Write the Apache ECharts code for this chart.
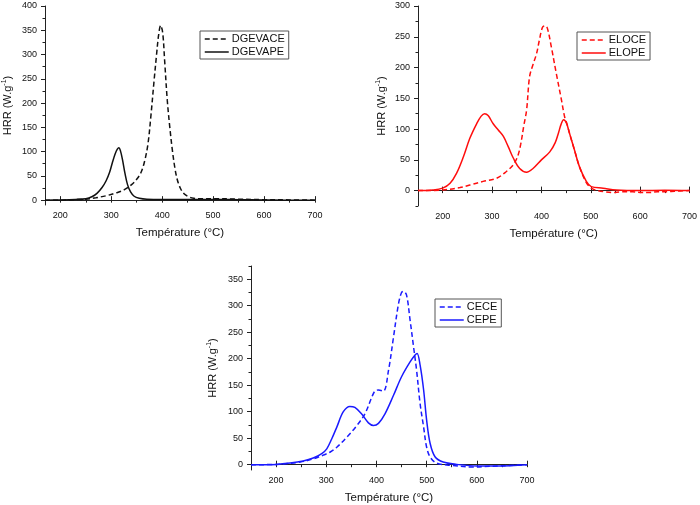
<!DOCTYPE html>
<html><head><meta charset="utf-8">
<script src="https://cdn.jsdelivr.net/npm/echarts@6/dist/echarts.min.js"></script>
<style>html,body{margin:0;padding:0;background:#fff}#c{width:700px;height:505px}</style>
</head><body><div id="c"></div>
<script>
// ---- Data ----
const dgevapeT = [170,200,230,250,262,272,282,290,297,303,308,312,315,318,322,327,332,338,345,355,370,400,450,500,550,600,650,700];
const dgevapeV = [0,0.5,1.5,3,7,14,26,40,58,80,96,105,108,102,84,55,32,17,8,4,2,1.5,1.5,1.5,1,0.5,0,0];
const dgevaceT = [170,200,230,250,270,290,310,325,340,350,358,365,372,378,384,389,393,397,401,405,410,415,420,425,430,436,443,452,462,475,500,550,600,650,700];
const dgevaceV = [0,0,1,2,5,9,15,21,32,43,56,78,115,175,245,300,340,360,345,285,206,150,103,66,41,24,13,7,4,3,3,2,1,0.5,0];

const elopeT = [150,180,200,215,228,242,255,269,278,285,292,302,313,323,333,343,356,370,383,400,417,428,435,440,445,451,457,467,477,491,501,525,552,600,650,700];
const elopeV = [0,1,4,12,28,55,85,109,121,125,122,109,98,88,71,53,36,30,36,50,63,78,95,108,115,109,93,66,39,15,6.5,4,1,0,0.5,0];
const eloceT = [150,200,235,255,282,309,329,343,352,358,364,370,376,383,390,396,402,407,412,420,430,440,447,452,457,467,477,491,501,515,530,545,560,585,600,619,635,652,670,700];
const eloceV = [0,1,5,9,15,20,31,42,56,75,104,131,185,205,222,245,265,268,264,234,191,150,120,108,93,66,39,13,4,0,-2,-3,-2,-2,-3,-3,-2,-2,-1,0];

const cepeT = [150,200,228,254,274,291,301,311,321,334,347,357,371,384,394,404,417,434,450,467,477,481,487,494,500,507,517,533,560,600,640,700];
const cepeV = [0,0.6,3,7,12.6,21,30,49,71,100,110,108,95,79,74,78,96,131,166,194,207,210,188,141,84,40,14.5,5,0.6,-2.5,-2.5,0];
const ceceT = [150,200,248,274,294,308,321,341,361,377,391,397,404,414,424,434,444,450,454,460,467,474,480,487,494,500,507,520,547,593,627,700];
const ceceV = [0,0.6,5,11,18,24,33,52,74,96,128,139,141,139,178,241,304,325,327,320,273,222,178,115,71,33,14.5,3,-1,-4.4,-3,0];

const xTicks = [200,300,400,500,600,700];
const xMinor1 = [200,250,300,350,400,450,500,550,600,650,700];
const xMinor23 = [150,200,250,300,350,400,450,500,550,600,650,700];
const yTicks1 = [0,50,100,150,200,250,300,350,400];
const yMinor1 = [25,75,125,175,225,275,325,375];
const yTicks2 = [0,50,100,150,200,250,300];
const yMinor2 = [-25,25,75,125,175,225,275];
const yTicks3 = [0,50,100,150,200,250,300,350];
const yMinor3 = [25,75,125,175,225,275,325,375];

const xTitle = 'Température (°C)';

// ---- Chart ----
const zip = (a,b) => a.map((v,i)=>[v,b[i]]);
const FONT = 'Liberation Sans, Arial, sans-serif';
const grids = [
  {left:45, top:6, width:270, height:199},
  {left:418, top:6, width:272, height:200},
  {left:251, top:266, width:276, height:204}
];
const xRanges = [[170,700],[150,700],[150,700]];
const yRanges = [[-10,400],[-25,300],[-10,375]];
const yMajors = [yTicks1,yTicks2,yTicks3];
const yMinors = [yMinor1,yMinor2,yMinor3];
const xMinors = [xMinor1,xMinor23,xMinor23];
const yGaps = [31,30,32];

const xAxis = [], yAxis = [];
for (let g=0; g<3; g++) {
  xAxis.push({type:'value', gridIndex:g, min:xRanges[g][0], max:xRanges[g][1],
    name:xTitle, nameLocation:'middle', nameGap:22,
    nameTextStyle:{fontSize:11.5, color:'#111', fontFamily:FONT},
    axisLine:{lineStyle:{color:'#222', width:1}},
    axisTick:{inside:true, length:4, customValues:xTicks, lineStyle:{color:'#222'}},
    axisLabel:{customValues:xTicks, fontSize:9, color:'#111', margin:6, fontFamily:FONT},
    splitLine:{show:false}});
  yAxis.push({type:'value', gridIndex:g, min:yRanges[g][0], max:yRanges[g][1],
    name:'HRR (W.g{sup|-1})', nameLocation:'middle', nameGap: yGaps[g], nameRotate:90,
    nameTextStyle:{fontSize:11, color:'#111', fontFamily:FONT,
      rich:{sup:{fontSize:7, color:'#111', fontFamily:FONT, padding:[0,0,6,0]}}},
    axisLine:{show:true, lineStyle:{color:'#222', width:1}},
    axisTick:{inside:false, length:4, customValues:yMajors[g], lineStyle:{color:'#222'}},
    axisLabel:{customValues:yMajors[g], fontSize:9, color:'#111', margin:8, fontFamily:FONT},
    splitLine:{show:false}});
}
// minor tick overlay axes
for (let g=0; g<3; g++) {
  xAxis.push({type:'value', gridIndex:g, min:xRanges[g][0], max:xRanges[g][1],
    axisLine:{show:false}, axisLabel:{show:false}, splitLine:{show:false},
    axisTick:{inside:true, length:2.5, customValues:xMinors[g], lineStyle:{color:'#222'}}});
  yAxis.push({type:'value', gridIndex:g, min:yRanges[g][0], max:yRanges[g][1], position:'left',
    axisLine:{show:false}, axisLabel:{show:false}, splitLine:{show:false},
    axisTick:{show:true, inside:false, length:2.5, customValues:yMinors[g], lineStyle:{color:'#222'}}});
}

function line(name, T, V, g, color, dashed) {
  return {name, type:'line', xAxisIndex:g, yAxisIndex:g, data:zip(T,V),
    showSymbol:false, symbol:'none', smooth:0.35, animation:false,
    lineStyle:{color, width:1.5, type: dashed ? [5,3] : 'solid'}, itemStyle:{color}};
}
const BLACK='#111', RED='#ff0d0d', BLUE='#1a1aff';
const series = [
  line('DGEVACE', dgevaceT, dgevaceV, 0, BLACK, true),
  line('DGEVAPE', dgevapeT, dgevapeV, 0, BLACK, false),
  line('ELOCE', eloceT, eloceV, 1, RED, true),
  line('ELOPE', elopeT, elopeV, 1, RED, false),
  line('CECE', ceceT, ceceV, 2, BLUE, true),
  line('CEPE', cepeT, cepeV, 2, BLUE, false)
];
function leg(id, names, left, top) {
  return {id, show:true, data:names, orient:'vertical', left:left, top:top, padding:[2,4,1,4], itemGap:1,
    itemWidth:24, itemHeight:10, borderColor:'#555', borderWidth:1,
    itemStyle:{opacity:0}, lineStyle:{width:1.5},
    textStyle:{fontSize:11, lineHeight:12, color:'#111', fontFamily:FONT, padding:[0,0,0,-2]},
    selectedMode:false};
}
const legend = [
  leg('l1', ['DGEVACE','DGEVAPE'], 200, 31),
  leg('l2', ['ELOCE','ELOPE'], 577, 32),
  leg('l3', ['CECE','CEPE'], 435, 299)
];
const chart = echarts.init(document.getElementById('c'), null, {renderer:'canvas'});
chart.setOption({animation:false, backgroundColor:'#fff', grid:grids, xAxis, yAxis, series, legend});
</script></body></html>
